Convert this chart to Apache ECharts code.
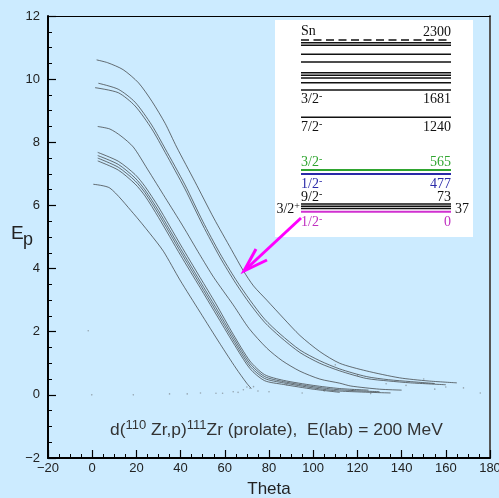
<!DOCTYPE html>
<html><head><meta charset="utf-8">
<script src="https://cdn.jsdelivr.net/npm/echarts@6/dist/echarts.min.js"></script>
<style>html,body{margin:0;padding:0;background:#CCEBFF}#c{width:499px;height:498px}</style>
</head><body><div id="c"></div>
<script>
// ---- data (theta [deg], Ep [MeV]) ----
const xTicks = [-20, 0, 20, 40, 60, 80, 100, 120, 140, 160, 180];
const yTicks = [-2, 0, 2, 4, 6, 8, 10, 12];
const curveA = [[2.0,10.61],[7,10.52],[14,10.3],[21,9.88],[27,9.3],[33,8.6],[38.2,7.85],[46.5,6.75],[55,5.6],[63,4.6],[68.4,3.93],[73,3.45],[79,3.0],[86.5,2.43],[94,1.88],[103,1.37],[112,1.0],[124,0.76],[139,0.54],[152,0.44],[165,0.38]];
const curveB1 = [[2.8,9.87],[11.8,9.68],[19.4,9.27],[26.9,8.55],[33,7.8],[42,6.65],[50,5.5],[57.8,4.48],[65,3.65],[71.4,3.0],[78,2.4],[85,1.93],[94,1.42],[103,1.08],[112,0.82],[124,0.58],[134,0.48],[144,0.42],[155,0.36]];
const curveB2 = [[1.3,9.73],[11.8,9.57],[19.4,9.15],[26.9,8.43],[33,7.68],[42,6.52],[50,5.38],[57.8,4.36],[65,3.53],[71.4,2.88],[78,2.3],[85,1.84],[94,1.34],[103,1.0],[112,0.76],[124,0.52],[134,0.44],[144,0.38],[160,0.32]];
const curveC = [[2.5,8.50],[8,8.42],[13,8.2],[18.6,7.85],[25,7.15],[33,6.25],[41,5.35],[48.6,4.45],[55,3.72],[63.8,2.85],[71,2.1],[79,1.48],[86,1.08],[94,0.75],[103,0.5],[112,0.37],[117,0.28],[130,0.18],[140,0.15]];
const curveD1 = [[2.5,7.68],[11.8,7.4],[19.4,6.98],[23.9,6.6],[30,5.95],[40,4.75],[48.8,3.72],[56,2.88],[63.8,1.92],[71.4,1.07],[78,0.64],[86.5,0.46],[100,0.3],[112,0.2],[125,0.15]];
const curveD2 = [[2.5,7.58],[11.8,7.3],[19.4,6.87],[23.9,6.49],[30,5.83],[40,4.63],[48.8,3.6],[56,2.76],[63.8,1.83],[71.4,0.99],[78,0.58],[86.5,0.42],[100,0.26],[112,0.16],[130,0.1]];
const curveD3 = [[2.5,7.50],[11.8,7.21],[19.4,6.78],[23.9,6.4],[30,5.73],[40,4.53],[48.8,3.5],[56,2.66],[63.8,1.74],[71.4,0.91],[78,0.52],[86.5,0.38],[100,0.22],[112,0.12],[135,0.06]];
const curveD4 = [[2.5,7.41],[11.8,7.12],[19.4,6.68],[23.9,6.3],[30,5.62],[40,4.42],[48.8,3.4],[56,2.56],[63.8,1.65],[71.4,0.83],[78,0.45],[86.5,0.33],[100,0.18],[112,0.08]];
const curveE = [[0.5,6.67],[8,6.55],[18.6,5.75],[26,5.12],[32.2,4.55],[39.7,3.64],[48.8,2.62],[58,1.6],[65,0.85],[69.9,0.37],[72,0.2]];
const strayDots = [[-1.8,2.03],[-0.2,0.0],[18.6,0.0],[35,0.03],[43,0.03],[49,0.06],[56,0.05],[59,0.05],[63.8,0.1],[66,0.08],[68.4,0.16],[70,0.25],[71.4,0.21],[73,0.26],[75,0.12],[80,0.1],[88,0.32],[95,0.06],[105,0.12],[118,0.15],[126,0.04],[133,0.35],[142,0.3],[150,0.5],[155,0.18],[160,0.25],[168,0.22],[175.6,0.06],[120,0.62],[110,0.95]];
const curves = [curveA, curveB1, curveB2, curveC, curveD1, curveD2, curveD3, curveD4, curveE];

const chart = echarts.init(document.getElementById('c'), null, {renderer:'canvas'});
const fmt = v => String(v).replace('-', '\u2212');
const sans = 'Liberation Sans, Arial, sans-serif';
const serif = 'Liberation Serif, Times New Roman, serif';

const series = curves.map(c => ({
  type:'line', data:c, xAxisIndex:0, yAxisIndex:0, smooth:0.25, showSymbol:false, symbol:'none',
  lineStyle:{color:'rgba(45,45,45,0.75)', width:0.9}, silent:true, animation:false
}));
series.push({type:'scatter', data:strayDots, symbolSize:1.6, itemStyle:{color:'rgba(90,90,90,0.6)'}, silent:true, animation:false});

// inset level scheme (annotation)
const L = 301, R = 451;
const black = '#111';
function hline(y, color, w, dash){ return {type:'line', shape:{x1:L,y1:y,x2:R,y2:y}, style:{stroke:color, lineWidth:w||1.5, lineDash:dash||null}, z:10}; }
function tx(x, y, text, color, align, size){
  return {type:'text', x:x, y:y, z:11, style:{text:text, fill:color, font:(size||14)+'px '+serif, align:align||'left', verticalAlign:'middle',
    rich:{n:{fontSize:size||14, fontFamily:serif, fill:color, lineHeight:15}, s:{fontSize:10, fontFamily:serif, fill:color, lineHeight:9, verticalAlign:'top'}}}};
}
const inset = [
  {type:'rect', shape:{x:275,y:20,width:198,height:217}, style:{fill:'#fff'}, z:9},
  hline(40, black, 1.6, [8,4.5]),
  hline(42.7, black), hline(45.3, black), hline(54.3, black), hline(62, black),
  hline(72.7, black), hline(75.3, black), hline(78, black), hline(82.7, black), hline(90, black),
  hline(117.3, black),
  hline(170, '#2fa52f', 2), hline(174, '#2a2aa8', 2),
  hline(204, black), hline(206.3, black), hline(208.6, black), hline(211.7, '#d030d0', 2),
  tx(L, 31, 'Sn', black, 'left', 14), tx(R, 32, '2300', black, 'right', 14),
  tx(L, 99, '{n|3/2}{s|-}', black, 'left'), tx(R, 99, '1681', black, 'right'),
  tx(L, 127, '{n|7/2}{s|-}', black, 'left'), tx(R, 127, '1240', black, 'right'),
  tx(L, 162, '{n|3/2}{s|-}', '#2fa52f', 'left'), tx(R, 162, '565', '#2fa52f', 'right'),
  tx(L, 184, '{n|1/2}{s|-}', '#2a2aa8', 'left'), tx(R, 184, '477', '#2a2aa8', 'right'),
  tx(L, 197, '{n|9/2}{s|-}', black, 'left'), tx(R, 197, '73', black, 'right'),
  tx(300, 209, '{n|3/2}{s|+}', black, 'right'), tx(455, 209, '37', black, 'left'),
  tx(L, 222, '{n|1/2}{s|-}', '#c030c0', 'left'), tx(R, 222, '0', '#c030c0', 'right'),
  // arrow
  {type:'polyline', shape:{points:[[301,218],[244,271]]}, style:{stroke:'#ff00ff', lineWidth:3}, z:12},
  {type:'polyline', shape:{points:[[267,260],[244,271],[256,249]]}, style:{stroke:'#ff00ff', lineWidth:3, fill:null, lineJoin:'miter'}, z:12},
  // Ep label
  {type:'text', x:11, y:234, style:{text:'E', font:'19px '+sans, fill:'#222', verticalAlign:'middle'}},
  {type:'text', x:23, y:240, style:{text:'p', font:'18px '+sans, fill:'#222', verticalAlign:'middle'}},
  // reaction annotation
  {type:'text', x:110, y:430, z:5, style:{text:'{m|d(}{s|110}{m| Zr,p)}{s|111}{m|Zr (prolate),  E(lab) = 200 MeV}', verticalAlign:'middle',
    rich:{m:{fontSize:17.4, fontFamily:sans, fill:'#333', lineHeight:22}, s:{fontSize:13, fontFamily:sans, fill:'#333', lineHeight:11, verticalAlign:'top'}}}}
];

chart.setOption({
  backgroundColor:'#CCEBFF',
  animation:false,
  grid:{left:48, right:9, top:16, bottom:40, show:false, containLabel:false, outerBoundsMode:'none'},
  xAxis:[
    {type:'value', min:xTicks[0], max:xTicks[xTicks.length-1], interval:20, position:'bottom',
     axisLine:{show:true, onZero:false, lineStyle:{color:'#000', width:2}},
     axisTick:{show:true, inside:true, length:8, lineStyle:{color:'#000', width:1.2}},
     minorTick:{show:true, splitNumber:4, length:4, lineStyle:{color:'#000', width:1}},
     splitLine:{show:false},
     axisLabel:{color:'#222', fontSize:13, fontFamily:sans, margin:4, formatter:fmt, showMaxLabel:true, hideOverlap:false},
     name:'Theta', nameLocation:'middle', nameGap:23, nameTextStyle:{fontSize:17, color:'#222', fontFamily:sans}},
    {type:'value', min:xTicks[0], max:xTicks[xTicks.length-1], position:'top',
     axisLine:{show:true, onZero:false, lineStyle:{color:'#000', width:1.2}},
     axisTick:{show:false}, axisLabel:{show:false}, splitLine:{show:false}}
  ],
  yAxis:[
    {type:'value', min:yTicks[0], max:yTicks[yTicks.length-1], interval:2, position:'left',
     axisLine:{show:true, onZero:false, lineStyle:{color:'#000', width:2}},
     axisTick:{show:true, inside:true, length:8, lineStyle:{color:'#000', width:1.2}},
     minorTick:{show:true, splitNumber:4, length:4, lineStyle:{color:'#000', width:1}},
     splitLine:{show:false},
     axisLabel:{color:'#222', fontSize:13, fontFamily:sans, margin:8, formatter:fmt}},
    {type:'value', min:yTicks[0], max:yTicks[yTicks.length-1], position:'right',
     axisLine:{show:true, onZero:false, lineStyle:{color:'#555', width:2}},
     axisTick:{show:false}, axisLabel:{show:false}, splitLine:{show:false}}
  ],
  series: series,
  graphic: inset
});
</script></body></html>
